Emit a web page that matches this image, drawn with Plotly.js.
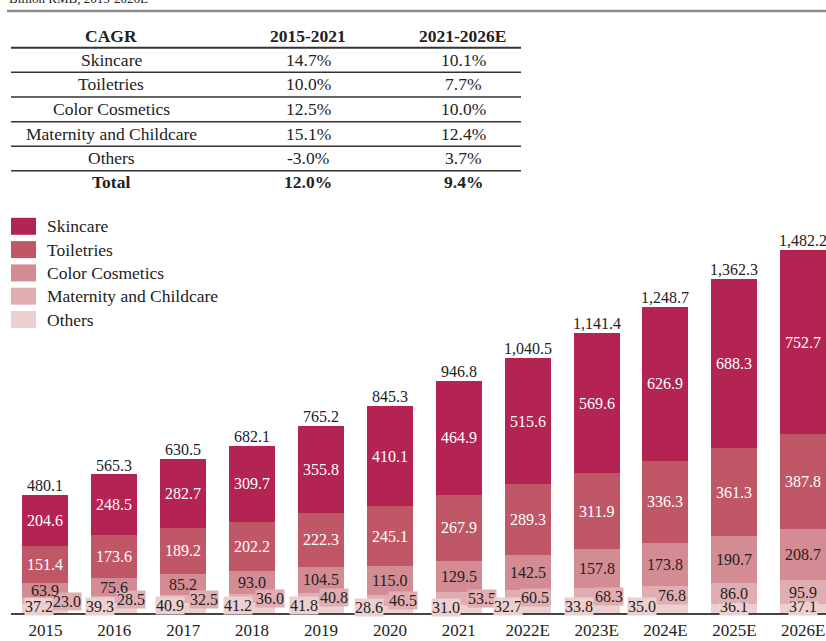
<!DOCTYPE html>
<html>
<head>
<meta charset="utf-8">
<script src="https://cdn.plot.ly/plotly-3.0.1.min.js"></script>
<style>html,body{margin:0;padding:0;background:#fff;}#chart{width:826px;height:641px;}</style>
</head>
<body>
<div id="chart"></div>
<script>
// ---- data ----
const years = ["2015","2016","2017","2018","2019","2020","2021","2022E","2023E","2024E","2025E","2026E"];
const skincare = [204.6,248.5,282.7,309.7,355.8,410.1,464.9,515.6,569.6,626.9,688.3,752.7];
const toiletries = [151.4,173.6,189.2,202.2,222.3,245.1,267.9,289.3,311.9,336.3,361.3,387.8];
const colorCosmetics = [63.9,75.6,85.2,93.0,104.5,115.0,129.5,142.5,157.8,173.8,190.7,208.7];
const maternity = [23.0,28.5,32.5,36.0,40.8,46.5,53.5,60.5,68.3,76.8,86.0,95.9];
const others = [37.2,39.3,40.9,41.2,41.8,28.6,31.0,32.7,33.8,35.0,36.1,37.1];
const totals = [480.1,565.3,630.5,682.1,765.2,845.3,946.8,1040.5,1141.4,1248.7,1362.3,1482.2];

const cagrHeader = ["CAGR","2015-2021","2021-2026E"];
const cagrSegments = ["Skincare","Toiletries","Color Cosmetics","Maternity and Childcare","Others","Total"];
const cagr1521 = ["14.7%","10.0%","12.5%","15.1%","-3.0%","12.0%"];
const cagr2126 = ["10.1%","7.7%","10.0%","12.4%","3.7%","9.4%"];

const subtitle = "Billion RMB, 2015-2026E";

// ---- styles ----
const FONT = "Liberation Serif, Times New Roman, serif";
const DARK = "#222222";
const colors = {
  Skincare: "#B42452",
  Toiletries: "#C05766",
  "Color Cosmetics": "#D48C94",
  "Maternity and Childcare": "#E0AEB2",
  Others: "#ECCFCF"
};
// label x offsets (px) for the small bottom segments
const matShift = [22,17,21,18,13,13,23,7,12,7,0,0];
const othShift = [-6,-14,-13,-14,-17,-21,-13,-20,-18,-23,0,0];

// plot area geometry (pixels)
const W = 826, H = 641, mL = 11, mB = 28;
const plotW = W - mL, plotH = H - mB;
const px2x = p => (p - mL) / plotW;
const py2y = p => (plotH - p) / plotH;

const stackOrder = [
  ["Others", others],
  ["Maternity and Childcare", maternity],
  ["Color Cosmetics", colorCosmetics],
  ["Toiletries", toiletries],
  ["Skincare", skincare]
];

const traces = stackOrder.map(([name, vals]) => ({
  type: "bar", name: name, x: years, y: vals,
  marker: {color: colors[name], line: {width: 0}},
  hoverinfo: "none", showlegend: false
}));

const annotations = [];
const shapes = [];
const LBL = 16;

// bar segment labels
years.forEach((yr, i) => {
  let base = 0;
  stackOrder.forEach(([name, vals]) => {
    const v = vals[i];
    const mid = base + v / 2;
    const a = {
      x: i, y: mid, xref: "x", yref: "y", xanchor: "center", yanchor: "middle",
      text: v.toFixed(1), showarrow: false,
      font: {family: FONT, size: LBL, color: DARK}, borderpad: 0
    };
    if (name === "Skincare" || name === "Toiletries") a.font.color = "#ffffff";
    if (name === "Maternity and Childcare") { a.xshift = matShift[i]; a.bgcolor = colors[name]; }
    if (name === "Others") { a.xshift = othShift[i]; a.yshift = 2; a.bgcolor = colors[name]; }
    annotations.push(a);
    base += v;
  });
  annotations.push({
    x: i, y: totals[i], xref: "x", yref: "y", xanchor: "center", yanchor: "bottom",
    text: totals[i].toLocaleString("en-US", {minimumFractionDigits: 1, maximumFractionDigits: 1}),
    showarrow: false, font: {family: FONT, size: LBL, color: DARK}, yshift: -1
  });
});

// subtitle (mostly cropped at top) and rule
annotations.push({
  xref: "paper", yref: "paper", x: px2x(7), y: py2y(8), xanchor: "left", yanchor: "bottom",
  text: subtitle, showarrow: false, font: {family: FONT, size: 13, color: DARK}
});
shapes.push({type: "line", xref: "paper", yref: "paper", x0: px2x(7), x1: px2x(826), y0: py2y(11), y1: py2y(11),
  line: {color: "#8c8c8c", width: 2.5}});

// CAGR table
const TBL = 17.5;
const colX = [111, 308, 463];
const headerY = 36;
const rowY = [60, 84.5, 109, 133.5, 158, 182.5];
cagrHeader.forEach((h, j) => annotations.push({
  xref: "paper", yref: "paper", x: px2x(colX[j]), y: py2y(headerY), xanchor: "center", yanchor: "middle",
  text: "<b>" + h + "</b>", showarrow: false, font: {family: FONT, size: TBL, color: DARK}
}));
cagrSegments.forEach((s, r) => {
  const bold = r === cagrSegments.length - 1;
  [s, cagr1521[r], cagr2126[r]].forEach((t, j) => annotations.push({
    xref: "paper", yref: "paper", x: px2x(colX[j]), y: py2y(rowY[r]), xanchor: "center", yanchor: "middle",
    text: bold ? "<b>" + t + "</b>" : t,
    showarrow: false, font: {family: FONT, size: TBL, color: DARK}
  }));
});
shapes.push({type: "line", xref: "paper", yref: "paper", x0: px2x(11), x1: px2x(521), y0: py2y(47.7), y1: py2y(47.7),
  line: {color: "#333333", width: 2}});
[72.3, 97, 121.7, 146.2, 170.7].forEach(ly => shapes.push({
  type: "line", xref: "paper", yref: "paper", x0: px2x(11), x1: px2x(521), y0: py2y(ly), y1: py2y(ly),
  line: {color: "#333333", width: 1.5}
}));

// legend
const legendNames = ["Skincare","Toiletries","Color Cosmetics","Maternity and Childcare","Others"];
legendNames.forEach((n, k) => {
  const cy = 226.3 + k * 23.3;
  shapes.push({type: "rect", xref: "paper", yref: "paper", x0: px2x(11), x1: px2x(36),
    y0: py2y(cy - 8.5), y1: py2y(cy + 8.5), fillcolor: colors[n], line: {width: 0}});
  annotations.push({xref: "paper", yref: "paper", x: px2x(45), y: py2y(cy), xanchor: "left", yanchor: "middle",
    text: n, showarrow: false, font: {family: FONT, size: TBL, color: DARK}});
});

const layout = {
  width: W, height: H,
  margin: {l: mL, r: 0, t: 0, b: mB, pad: 0},
  paper_bgcolor: "#ffffff", plot_bgcolor: "#ffffff",
  barmode: "stack", bargap: 0.332,
  showlegend: false,
  xaxis: {type: "category", range: [-0.5, 11.33], showline: true, linecolor: "#444444", linewidth: 1.5,
    showgrid: false, zeroline: false, ticks: "", tickfont: {family: FONT, size: 17, color: DARK},
    ticklabelstandoff: 1, fixedrange: true},
  yaxis: {range: [0, 2502], visible: false, showgrid: false, zeroline: false, fixedrange: true},
  annotations: annotations,
  shapes: shapes,
  font: {family: FONT}
};

Plotly.newPlot("chart", traces, layout, {displayModeBar: false, staticPlot: true});
</script>
</body>
</html>
